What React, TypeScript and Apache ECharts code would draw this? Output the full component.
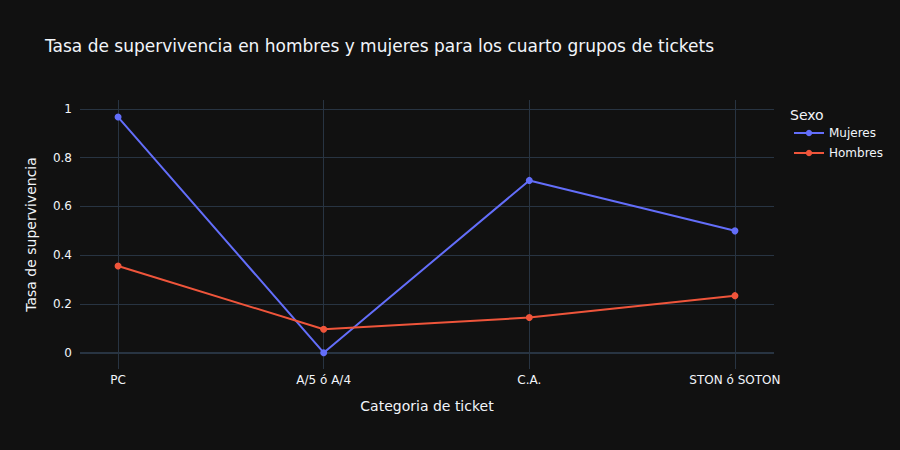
import React, { useEffect, useRef } from "react";
import * as echarts from "echarts";

const categories = ["PC", "A/5 ó A/4", "C.A.", "STON ó SOTON"];
const mujeres = [0.967, 0, 0.707, 0.5];
const hombres = [0.356, 0.096, 0.144, 0.234];
const yTicks = [0, 0.2, 0.4, 0.6, 0.8, 1];
const xTicks = [0, 1, 2, 3];

const FONT = '"DejaVu Sans", Verdana, sans-serif';
const TXT = "#f2f5fa";
const GRID = "#283442";

export default function App() {
  const ref = useRef<HTMLDivElement>(null);
  useEffect(() => {
    if (!ref.current) return;
    document.body.style.margin = "0";
    const chart = echarts.init(ref.current, undefined, { renderer: "svg" });
    chart.setOption({
      animation: false,
      backgroundColor: "#111111",
      textStyle: { fontFamily: FONT, color: TXT },
      title: [
        {
          text: "Tasa de supervivencia en hombres y mujeres para los cuarto grupos de tickets",
          left: 40,
          top: 32,
          textStyle: { fontFamily: FONT, fontSize: 17, fontWeight: "normal", color: TXT },
        },
        {
          text: "Sexo",
          left: 785,
          top: 103,
          textStyle: { fontFamily: FONT, fontSize: 14, fontWeight: "normal", color: TXT },
        },
      ],
      legend: {
        orient: "vertical",
        left: 788,
        top: 122,
        itemWidth: 30,
        itemHeight: 8,
        itemGap: 8,
        textStyle: { fontFamily: FONT, fontSize: 12, color: TXT },
        data: ["Mujeres", "Hombres"],
      },
      grid: { left: 80, right: 126, top: 100, bottom: 81 },
      xAxis: {
        type: "value",
        min: -0.185,
        max: 3.19,
        name: "Categoria de ticket",
        nameLocation: "middle",
        nameGap: 30,
        nameTextStyle: { fontFamily: FONT, fontSize: 14, color: TXT },
        axisLine: { show: false },
        axisTick: { show: false, customValues: xTicks },
        axisLabel: {
          customValues: xTicks,
          formatter: (v: number) => categories[Math.round(v)] ?? "",
          color: TXT,
          fontFamily: FONT,
          fontSize: 12,
          margin: 5,
        },
        splitLine: { show: true, lineStyle: { color: GRID, width: 1 } },
      },
      yAxis: {
        type: "value",
        min: -0.067,
        max: 1.037,
        name: "Tasa de supervivencia",
        nameLocation: "middle",
        nameGap: 42,
        nameTextStyle: { fontFamily: FONT, fontSize: 14, color: TXT },
        axisLine: { show: false },
        axisTick: { show: false, customValues: yTicks },
        axisLabel: {
          customValues: yTicks,
          formatter: (v: number) => String(Math.round(v * 10) / 10),
          color: TXT,
          fontFamily: FONT,
          fontSize: 12,
          margin: 8,
        },
        splitLine: { show: true, lineStyle: { color: GRID, width: 1 } },
      },
      series: [
        {
          name: "Mujeres",
          type: "line",
          data: mujeres.map((v, i) => [i, v]),
          symbol: "circle",
          symbolSize: 7,
          lineStyle: { width: 2, color: "#636efa" },
          itemStyle: { color: "#636efa" },
          z: 3,
          markLine: {
            silent: true,
            symbol: "none",
            label: { show: false },
            lineStyle: { color: GRID, width: 2, type: "solid" },
            data: [{ yAxis: 0 }],
            z: 1,
          },
        },
        {
          name: "Hombres",
          type: "line",
          data: hombres.map((v, i) => [i, v]),
          symbol: "circle",
          symbolSize: 7,
          lineStyle: { width: 2, color: "#EF553B" },
          itemStyle: { color: "#EF553B" },
          z: 3,
        },
      ],
    });
    return () => chart.dispose();
  }, []);
  return <div ref={ref} style={{ width: 900, height: 450 }} />;
}
